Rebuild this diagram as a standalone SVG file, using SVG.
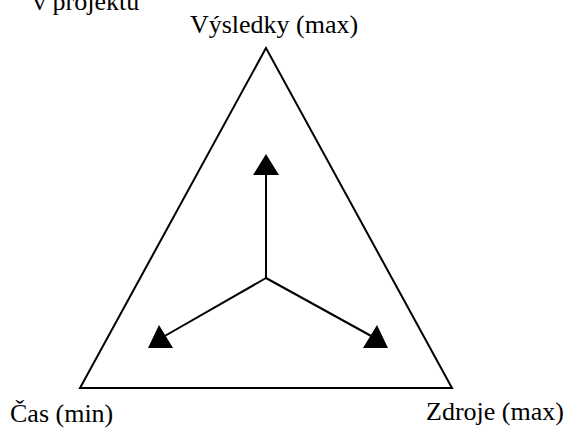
<svg xmlns="http://www.w3.org/2000/svg" width="565" height="428" viewBox="0 0 565 428">
<style>
text{font-family:'Liberation Serif','DejaVu Serif',serif;font-size:26px;fill:#000}
.ln{stroke:#000;stroke-width:2;fill:none}
.hd{fill:#000;stroke:none}
</style>
<rect width="565" height="428" fill="#fff"/>
<text x="33" y="10">v projektu</text>
<g id="triangle">
<polygon class="ln" points="266,48 80,388 452,388"/>
</g>
<g id="vysledky"><text x="274" y="33" text-anchor="middle">Výsledky (max)</text></g>
<g id="cas"><text x="10" y="422">Čas (min)</text></g>
<g id="zdroje"><text x="426" y="420">Zdroje (max)</text></g>
<g id="connectors">
<line class="ln" x1="266" y1="278" x2="266" y2="172"/>
<line class="ln" x1="266" y1="278" x2="163" y2="337"/>
<line class="ln" x1="266" y1="278" x2="373" y2="337"/>
<polygon class="hd" points="266,154 253,175 279,175"/>
<polygon class="hd" points="159,325 148,348 173,348"/>
<polygon class="hd" points="377,325 363,348 388,348"/>
</g>
</svg>
